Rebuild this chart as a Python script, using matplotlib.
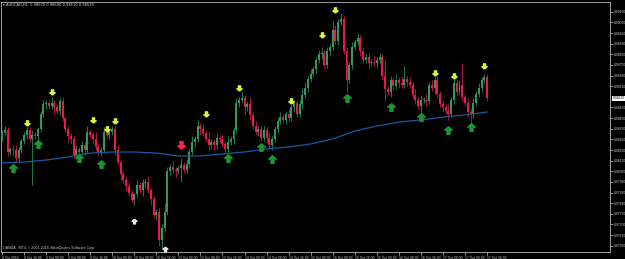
import numpy as np
import matplotlib
matplotlib.use("Agg")
import matplotlib.pyplot as plt
import matplotlib.transforms as mtransforms

symbol = "AUDCAD,H1"
copyright_text = "OANDA - MT4, \u00a9 2001-2014, MetaQuotes Software Corp."

# H1 closes in pips (price * 10000)
close_pips = [
    9830, 9832, 9818, 9820, 9819, 9814, 9819, 9825, 9829, 9832, 9826, 9829, 9828, 9833, 9843, 9849, 9850,
    9848, 9850, 9847, 9845, 9851, 9840, 9833, 9828, 9826, 9816, 9820, 9818, 9822, 9819, 9831, 9829,
    9826, 9821, 9818, 9819, 9831, 9829, 9831, 9833, 9819, 9811, 9803, 9799, 9795, 9791, 9786, 9790,
    9796, 9793, 9797, 9798, 9793, 9787, 9776, 9778, 9760, 9768, 9778, 9805, 9808, 9806, 9805, 9807,
    9809, 9806, 9810, 9818, 9824, 9826, 9835, 9833, 9830, 9826, 9822, 9824, 9822, 9827, 9826, 9823,
    9820, 9824, 9826, 9832, 9850, 9852, 9853, 9847, 9849, 9842, 9835, 9831, 9833, 9827, 9832, 9827,
    9822, 9826, 9833, 9838, 9841, 9839, 9843, 9840, 9847, 9850, 9843, 9849, 9855, 9860, 9866, 9869,
    9872, 9878, 9882, 9883, 9875, 9884, 9887, 9898, 9891, 9903, 9905, 9884, 9865, 9875, 9887, 9890,
    9893, 9884, 9878, 9880, 9876, 9877, 9876, 9878, 9880, 9868, 9859, 9857, 9865, 9861, 9865, 9863,
    9862, 9866, 9864, 9862, 9855, 9852, 9848, 9852, 9852, 9851, 9862, 9860, 9865, 9856, 9849, 9847,
    9845, 9843, 9852, 9863, 9857, 9862, 9854, 9850, 9844, 9843, 9850,
    9856, 9860, 9865, 9867, 9853,
]
first_open = 9827

upper_wick = [
    2, 3, 2, 1, 2, 3, 2, 1, 2, 2, 2, 3, 2, 1, 2, 3,
    2, 2, 4, 2, 2, 2, 3, 1, 2, 2, 3, 2, 1, 3, 2, 4,
    2, 2, 5, 2, 2, 3, 2, 1, 2, 2, 3, 1, 2, 2, 3, 2,
    1, 3, 2, 3, 2, 4, 1, 2, 2, 3, 2, 6, 3, 2, 4, 2,
    2, 5, 2, 3, 2, 4, 2, 4, 2, 3, 2, 5, 2, 2, 3, 2,
    3, 2, 4, 2, 2, 3, 2, 4, 2, 2, 5, 2, 3, 2, 2, 3,
    2, 4, 2, 2, 2, 3, 2, 2, 3, 2, 2, 2, 3, 5, 4, 2,
    3, 2, 2, 3, 4, 2, 3, 2, 6, 3, 2, 4, 2, 3, 2, 3,
    2, 3, 2, 3, 2, 3, 2, 4, 2, 3, 2, 10, 2, 3, 2, 4,
    2, 5, 8, 2, 3, 2, 4, 2, 3, 2, 4, 2, 3, 2, 3, 2,
    3, 2, 4, 2, 3, 2, 3, 14, 2, 3, 2, 3, 2, 3, 2, 2,
    2,
]
lower_wick = [
    2, 2, 3, 2, 4, 2, 3, 2, 2, 3, 2, 30, 2, 3, 2, 2,
    3, 2, 2, 4, 2, 3, 2, 2, 4, 3, 2, 3, 2, 2, 3, 2,
    2, 3, 2, 2, 3, 2, 2, 3, 2, 3, 2, 4, 2, 3, 2, 2,
    3, 2, 2, 4, 3, 2, 4, 2, 3, 4, 6, 3, 2, 3, 2, 4,
    2, 9, 2, 2, 3, 2, 3, 2, 4, 2, 2, 3, 2, 3, 2, 2,
    2, 3, 2, 2, 3, 2, 3, 2, 4, 2, 3, 2, 2, 3, 2, 2,
    3, 2, 3, 2, 3, 2, 2, 3, 2, 2, 3, 2, 2, 3, 2, 3,
    2, 2, 3, 2, 3, 2, 2, 3, 2, 2, 3, 2, 2, 8, 2, 3,
    2, 2, 3, 2, 2, 3, 2, 2, 3, 2, 2, 7, 2, 3, 2, 2,
    3, 2, 2, 3, 2, 2, 3, 2, 6, 2, 3, 2, 2, 4, 3, 2,
    3, 2, 4, 2, 3, 2, 2, 3, 2, 3, 8, 3, 2, 2, 3, 2,
    2,
]

# moving average, one value every 8 bars
ma_values = [0.98105, 0.98111, 0.98124, 0.98144, 0.98170, 0.98177, 0.98177, 0.98170,
             0.98151, 0.98151, 0.98164, 0.98177, 0.98197, 0.98210, 0.98230, 0.98263,
             0.98315, 0.98348, 0.98374, 0.98388, 0.98407, 0.98421, 0.98440]

# signal arrows (bar index, price in pips)
green_idx = [4, 13, 28, 36, 82, 94, 98, 125, 141, 152, 162, 170]
green_px = [9807, 9823, 9814, 9810, 9814, 9821, 9813, 9853, 9847, 9841, 9832, 9834]
yellow_idx = [9, 18, 33, 38, 41, 74, 86, 105, 116, 121, 157, 164, 175]
yellow_px = [9837, 9857, 9839, 9833, 9838, 9843, 9860, 9851, 9895, 9911, 9870, 9868, 9874]
red_idx = [65]
red_px = [9822]
white_idx = [48, 59]
white_px = [9772, 9754]

time_labels = ["8 Oct 2014", "8 Oct 16:00", "9 Oct 00:00", "9 Oct 08:00", "9 Oct 16:00",
               "10 Oct 00:00", "10 Oct 08:00", "10 Oct 16:00", "13 Oct 00:00", "13 Oct 08:00",
               "13 Oct 16:00", "14 Oct 00:00", "14 Oct 08:00", "14 Oct 16:00", "15 Oct 00:00",
               "15 Oct 08:00", "15 Oct 16:00", "16 Oct 00:00", "16 Oct 08:00", "16 Oct 16:00",
               "17 Oct 00:00", "17 Oct 08:00", "17 Oct 16:00"]
price_ticks = [0.99100, 0.99030, 0.98960, 0.98890, 0.98820, 0.98750, 0.98680, 0.98610,
               0.98470, 0.98400, 0.98330, 0.98260, 0.98190, 0.98120, 0.98050, 0.97980,
               0.97910, 0.97840, 0.97770, 0.97700, 0.97630, 0.97560]

# --- build candles
close = np.array(close_pips) / 10000.0
opens = np.concatenate([[first_open / 10000.0], close[:-1]])
highs = np.maximum(opens, close) + np.array(upper_wick) / 10000.0
lows = np.minimum(opens, close) - np.array(lower_wick) / 10000.0
idx = np.arange(len(close))
up = close >= opens

fig = plt.figure(figsize=(6.25, 2.59), dpi=100, facecolor="black")
ax = fig.add_axes([1 / 625, 7 / 259, 609 / 625, 250 / 259])
ax.set_facecolor("black")

green, red = "#2f9a5c", "#ee1848"
ax.vlines(idx[up], lows[up], highs[up], color="#24794a", lw=0.7, zorder=2)
ax.vlines(idx[~up], lows[~up], highs[~up], color="#b0143c", lw=0.7, zorder=2)
body_h = np.maximum(np.abs(close - opens), 0.00003)
ax.bar(idx[up], body_h[up], bottom=np.minimum(opens, close)[up], width=0.72,
       color=green, linewidth=0, zorder=3)
ax.bar(idx[~up], body_h[~up], bottom=np.minimum(opens, close)[~up], width=0.72,
       color=red, linewidth=0, zorder=3)

ma_pos = np.arange(0, len(close), 8)
ax.plot(ma_pos, ma_values, color="#1b58a0", lw=0.9, zorder=4)

up_arrow = [(0, 1), (-1, 0.1), (-0.4, 0.1), (-0.4, -1), (0.4, -1), (0.4, 0.1), (1, 0.1), (0, 1)]
down_arrow = [(x, -y) for x, y in up_arrow]
ax.plot(green_idx, np.array(green_px) / 10000.0, ls="none", marker=up_arrow,
        ms=5.5, color="#1c9433", mec="#1c9433", zorder=5)
ax.plot(yellow_idx, np.array(yellow_px) / 10000.0, ls="none", marker=down_arrow,
        ms=3.8, color="#d4f53a", mec="#d4f53a", zorder=5)
ax.plot(red_idx, np.array(red_px) / 10000.0, ls="none", marker=down_arrow,
        ms=5.5, color="#ff2050", mec="#ff2050", zorder=5)
ax.plot(white_idx, np.array(white_px) / 10000.0, ls="none", marker=up_arrow,
        ms=3.5, color="#f0e6ea", mec="#f0e6ea", zorder=5)

# axes like MT4
ax.set_xlim(-0.363, -0.363 + 609 / 2.756)
ax.set_ylim(0.97519, 0.99164)
ax.yaxis.tick_right()
ax.set_yticks(price_ticks)
ax.set_yticklabels(["%.5f" % p for p in price_ticks])
ax.set_xticks(ma_pos)
ax.set_xticklabels(time_labels, ha="left")
ax.tick_params(colors="#c8c8c8", labelsize=2.4, length=2, width=0.5, pad=1)
for lab in ax.get_xticklabels() + ax.get_yticklabels():
    lab.set_fontfamily("Liberation Sans")
for sp in ax.spines.values():
    sp.set_color("#b8b8b8")
    sp.set_linewidth(0.6)

# current price box
trans = mtransforms.blended_transform_factory(ax.transAxes, ax.transData)
ax.text(1.004, close[-1], "%.5f" % close[-1], transform=trans, fontsize=2.4,
        family="Liberation Sans", color="black", va="center", ha="left",
        bbox=dict(fc="white", ec="none", pad=0.4), clip_on=False)

title = "\u25be %s  %.5f %.5f %.5f %.5f" % (symbol, opens[-1], highs[-1], lows[-1], close[-1])
fig.text(3 / 625, 1 - 5 / 259, title, fontsize=2.6, color="#d8d8d8",
         family="DejaVu Sans", va="center", ha="left")
fig.text(3 / 625, 1 - 248 / 259, copyright_text, fontsize=2.6, color="#c8c8c8",
         family="Liberation Sans", va="center", ha="left")

fig.savefig("out.png", dpi=100, facecolor="black")
